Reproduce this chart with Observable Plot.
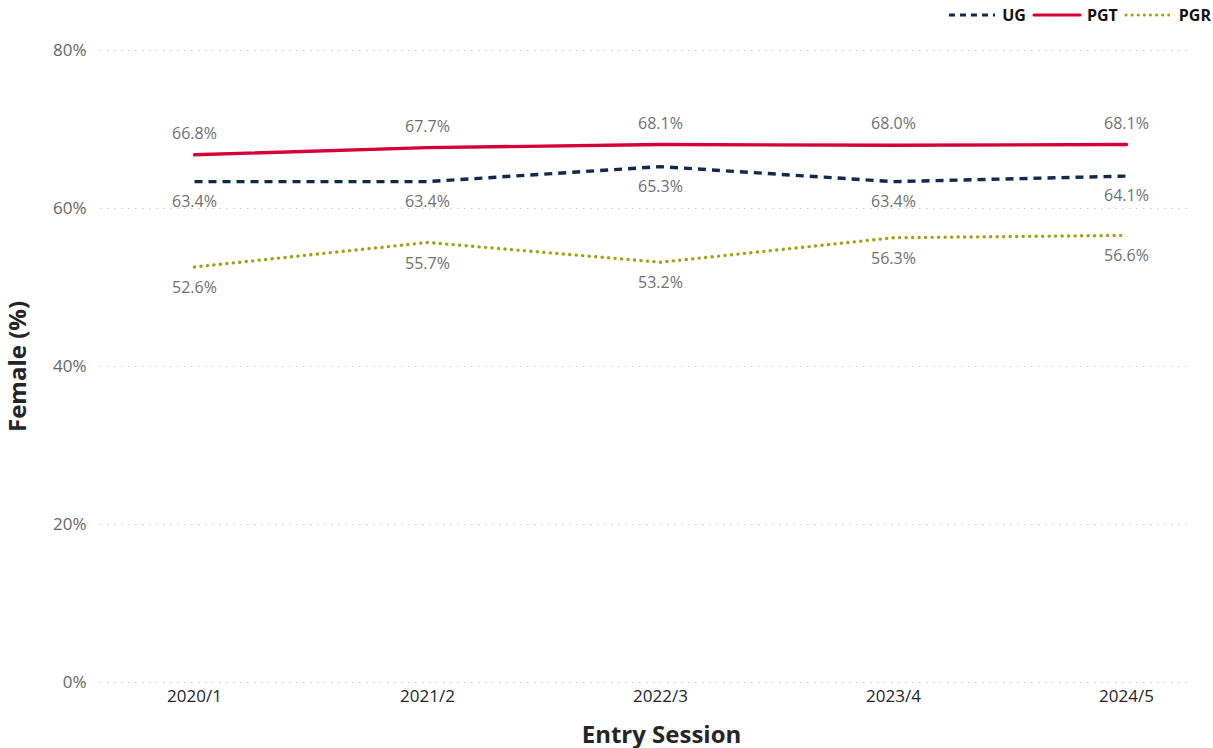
<!DOCTYPE html>
<html>
<head>
<meta charset="utf-8">
<script src="https://cdn.jsdelivr.net/npm/d3@7"></script>
<script src="https://cdn.jsdelivr.net/npm/@observablehq/plot@0.6"></script>
<style>
  body { margin: 0; background: #fff; font-family: "Open Sans", "Noto Sans", sans-serif; }
  #legend { height: 30px; display: flex; justify-content: flex-end; align-items: center; padding-right: 2px; font-weight: 700; font-size: 16px; color: #111; }
  #legend .item { display: flex; align-items: center; margin-left: 6px; }
  #legend svg { margin-right: 5px; }
</style>
</head>
<body>
<div id="legend"></div>
<div id="chart"></div>
<script>
const sessions = ["2020/1", "2021/2", "2022/3", "2023/4", "2024/5"];
const ug  = [63.4, 63.4, 65.3, 63.4, 64.1];
const pgt = [66.8, 67.7, 68.1, 68.0, 68.1];
const pgr = [52.6, 55.7, 53.2, 56.3, 56.6];
const yTicks = [0, 20, 40, 60, 80];

const seriesNames = ["UG", "PGT", "PGR"];
const seriesValues = {UG: ug, PGT: pgt, PGR: pgr};
const styles = {
  UG:  {color: "#13294b", dash: "8,6", cap: "butt", labelDy: 20},
  PGT: {color: "#d50037", dash: null, cap: "round", labelDy: -21},
  PGR: {color: "#a3a012", dash: "0.1,6.4", cap: "round", labelDy: 21}
};

const data = seriesNames.flatMap(s => sessions.map((x, i) => ({series: s, x, y: seriesValues[s][i]})));

const marks = [
  Plot.gridY(yTicks, {stroke: "#c8c8c8", strokeOpacity: 1, strokeDasharray: "1.5,5.5"}),
  Plot.axisY(yTicks, {tickSize: 0, tickPadding: 14, tickFormat: d => d + "%", fontSize: 17, fill: "#666", label: null}),
  Plot.axisX({tickSize: 0, tickPadding: 7, fontSize: 17, fill: "#252525", label: null}),
  Plot.text(["Female (%)"], {frameAnchor: "left", textAnchor: "middle", rotate: -90, dx: -82, fontSize: 24, fontWeight: 700, fill: "#252525"}),
  Plot.text(["Entry Session"], {frameAnchor: "bottom", textAnchor: "middle", dx: 16, dy: 60, fontSize: 24, fontWeight: 700, fill: "#252525"})
];
for (const s of seriesNames) {
  const st = styles[s];
  const d = data.filter(r => r.series === s);
  marks.push(Plot.line(d, {x: "x", y: "y", stroke: st.color, strokeWidth: 3.4, strokeDasharray: st.dash, strokeLinecap: st.cap, curve: "linear"}));
}
for (const s of seriesNames) {
  const st = styles[s];
  const d = data.filter(r => r.series === s);
  marks.push(Plot.text(d, {x: "x", y: "y", text: r => r.y.toFixed(1) + "%", dy: st.labelDy, fontSize: 16, fill: "#707070"}));
}

const chart = Plot.plot({
  width: 1213,
  height: 718,
  marginTop: 20,
  marginBottom: 66,
  marginLeft: 100,
  marginRight: 23,
  style: {fontFamily: "'Open Sans', 'Noto Sans', sans-serif", background: "#fff"},
  x: {type: "point", domain: sessions, range: [193, 1127], padding: 0},
  y: {domain: [0, 80]},
  marks
});
document.getElementById("chart").appendChild(chart);

// legend
const legend = document.getElementById("legend");
for (const s of seriesNames) {
  const st = styles[s];
  const item = document.createElement("div");
  item.className = "item";
  const ns = "http://www.w3.org/2000/svg";
  const sv = document.createElementNS(ns, "svg");
  sv.setAttribute("width", 50); sv.setAttribute("height", 10);
  const ln = document.createElementNS(ns, "line");
  ln.setAttribute("x1", 2); ln.setAttribute("x2", 48); ln.setAttribute("y1", 5); ln.setAttribute("y2", 5);
  ln.setAttribute("stroke", st.color); ln.setAttribute("stroke-width", 3);
  ln.setAttribute("stroke-linecap", st.cap);
  if (st.dash) ln.setAttribute("stroke-dasharray", s === "UG" ? "6,5" : "0.1,6");
  sv.appendChild(ln);
  item.appendChild(sv);
  const t = document.createElement("span");
  t.textContent = s;
  item.appendChild(t);
  legend.appendChild(item);
}
</script>
</body>
</html>
